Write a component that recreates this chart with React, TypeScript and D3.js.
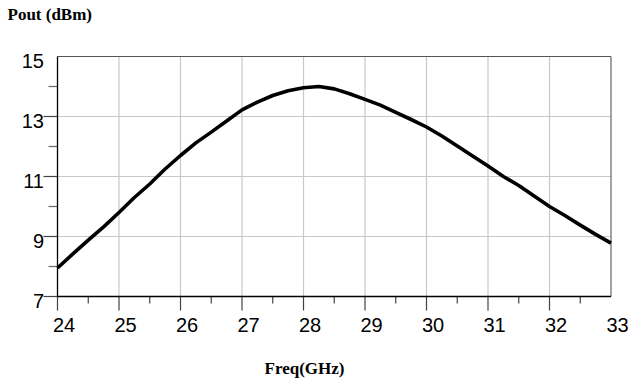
import React, { useRef, useEffect } from "react";
import * as d3 from "d3";

const freqs = [
  24, 24.25, 24.5, 24.75, 25, 25.25, 25.5, 25.75, 26, 26.25, 26.5, 26.75, 27, 27.25, 27.5, 27.75,
  28, 28.25, 28.5, 28.75, 29, 29.25, 29.5, 29.75, 30, 30.25, 30.5, 30.75, 31, 31.25, 31.5, 31.75,
  32, 32.25, 32.5, 32.75, 33,
];
const pout = [
  7.95, 8.42, 8.88, 9.32, 9.8, 10.3, 10.75, 11.25, 11.7, 12.12, 12.48, 12.85, 13.22, 13.48, 13.7, 13.86,
  13.96, 14.0, 13.92, 13.76, 13.57, 13.38, 13.14, 12.9, 12.65, 12.35, 12.02, 11.68, 11.35, 11.0, 10.7, 10.35,
  10.0, 9.7, 9.38, 9.07, 8.78,
];
const xMajorTicks = [24, 25, 26, 27, 28, 29, 30, 31, 32, 33];
const xMinorTicks = [24.5, 25.5, 26.5, 27.5, 28.5, 29.5, 30.5, 31.5, 32.5];
const yMajorTicks = [7, 9, 11, 13, 15];
const yMinorTicks = [8, 10, 12, 14];

const App = () => {
  const chartRef = useRef<SVGSVGElement>(null);

  useEffect(() => {
    const width = 629;
    const height = 385;
    const margin = { top: 56.5, right: 18, bottom: 88.5, left: 57.5 };
    const x0 = margin.left;
    const x1 = width - margin.right;
    const y0 = margin.top;
    const y1 = height - margin.bottom;

    const svg = d3.select(chartRef.current);
    svg.selectAll("*").remove();
    svg.attr("width", width).attr("height", height);

    const x = d3.scaleLinear().domain([24, 33]).range([x0, x1]);
    const y = d3.scaleLinear().domain([7, 15]).range([y1, y0]);

    // grid
    svg
      .append("g")
      .selectAll("line")
      .data(xMajorTicks.slice(1, -1))
      .enter()
      .append("line")
      .attr("x1", (d) => x(d))
      .attr("x2", (d) => x(d))
      .attr("y1", y0)
      .attr("y2", y1)
      .attr("stroke", "#c8c8c8")
      .attr("stroke-width", 1.2);
    svg
      .append("g")
      .selectAll("line")
      .data(yMajorTicks.slice(1, -1))
      .enter()
      .append("line")
      .attr("x1", x0)
      .attr("x2", x1)
      .attr("y1", (d) => y(d))
      .attr("y2", (d) => y(d))
      .attr("stroke", "#c8c8c8")
      .attr("stroke-width", 1.2);

    // frame: top + right gray, left + bottom black
    svg.append("line").attr("x1", x0).attr("x2", x1).attr("y1", y0).attr("y2", y0).attr("stroke", "#555").attr("stroke-width", 1.2);
    svg.append("line").attr("x1", x1).attr("x2", x1).attr("y1", y0).attr("y2", y1).attr("stroke", "#666").attr("stroke-width", 1.2);

    // x ticks (drawn by hand, axis style of the original)
    svg
      .append("g")
      .selectAll("line")
      .data(xMajorTicks.slice(0, -1))
      .enter()
      .append("line")
      .attr("x1", (d) => x(d))
      .attr("x2", (d) => x(d))
      .attr("y1", y1)
      .attr("y2", y1 + 14)
      .attr("stroke", "#444")
      .attr("stroke-width", 1.2);
    svg
      .append("g")
      .selectAll("line")
      .data(xMinorTicks)
      .enter()
      .append("line")
      .attr("x1", (d) => x(d))
      .attr("x2", (d) => x(d))
      .attr("y1", y1)
      .attr("y2", y1 + 7)
      .attr("stroke", "#444")
      .attr("stroke-width", 1.2);

    // y ticks
    svg
      .append("g")
      .selectAll("line")
      .data(yMajorTicks.slice(0, -1))
      .enter()
      .append("line")
      .attr("x1", x0 - 14)
      .attr("x2", x0)
      .attr("y1", (d) => y(d))
      .attr("y2", (d) => y(d))
      .attr("stroke", "#444")
      .attr("stroke-width", 1.2);
    svg
      .append("g")
      .selectAll("line")
      .data(yMinorTicks)
      .enter()
      .append("line")
      .attr("x1", x0 - 9)
      .attr("x2", x0)
      .attr("y1", (d) => y(d))
      .attr("y2", (d) => y(d))
      .attr("stroke", "#666")
      .attr("stroke-width", 1.2);

    svg.append("line").attr("x1", x0).attr("x2", x0).attr("y1", y0).attr("y2", y1).attr("stroke", "#000").attr("stroke-width", 1.3);
    svg.append("line").attr("x1", x0).attr("x2", x1).attr("y1", y1).attr("y2", y1).attr("stroke", "#000").attr("stroke-width", 1.3);

    // tick labels
    svg
      .append("g")
      .selectAll("text")
      .data(xMajorTicks)
      .enter()
      .append("text")
      .attr("x", (d) => x(d) + 6.5)
      .attr("y", y1 + 35.5)
      .attr("text-anchor", "middle")
      .style("font-family", "'Liberation Sans', Arial, sans-serif")
      .style("font-size", "20px")
      .text((d) => d);
    svg
      .append("g")
      .selectAll("text")
      .data(yMajorTicks)
      .enter()
      .append("text")
      .attr("x", 44)
      .attr("y", (d) => y(d) + 11)
      .attr("text-anchor", "end")
      .style("font-family", "'Liberation Sans', Arial, sans-serif")
      .style("font-size", "20px")
      .text((d) => d);

    // curve
    const line = d3
      .line<number>()
      .x((d, i) => x(freqs[i]))
      .y((d) => y(d));
    svg
      .append("path")
      .datum(pout)
      .attr("d", line)
      .attr("fill", "none")
      .attr("stroke", "#000")
      .attr("stroke-width", 3.6)
      .attr("stroke-linejoin", "round");

    // axis titles
    svg
      .append("text")
      .attr("x", 7.5)
      .attr("y", 20)
      .style("font-family", "'Liberation Serif', 'Times New Roman', serif")
      .style("font-weight", "bold")
      .style("font-size", "17px")
      .text("Pout (dBm)");
    svg
      .append("text")
      .attr("x", 304.5)
      .attr("y", 374)
      .attr("text-anchor", "middle")
      .style("font-family", "'Liberation Serif', 'Times New Roman', serif")
      .style("font-weight", "bold")
      .style("font-size", "17px")
      .text("Freq(GHz)");
  }, []);

  return (
    <div style={{ position: "absolute", left: 0, top: 0, width: 629, height: 385, background: "#fff" }}>
      <svg ref={chartRef} style={{ display: "block" }}></svg>
    </div>
  );
};

export default App;
